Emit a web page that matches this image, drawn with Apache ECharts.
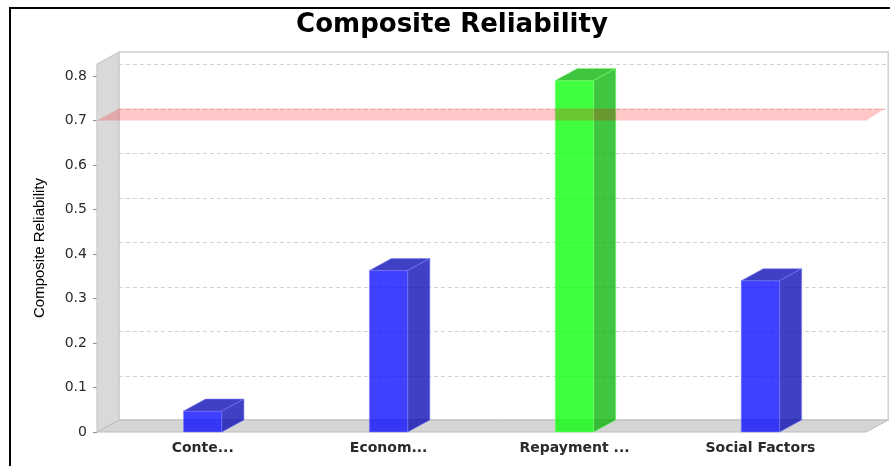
<!DOCTYPE html>
<html>
<head>
<meta charset="utf-8">
<script src="https://cdn.jsdelivr.net/npm/echarts@6/dist/echarts.min.js"></script>
<style>
  html, body { margin: 0; padding: 0; background: #fff; }
  #chart { width: 890px; height: 466px; }
</style>
</head>
<body>
<div id="chart"></div>
<script>
// Composite reliability per construct, with the 0.7 acceptance threshold.
const categories = ['Conte...', 'Econom...', 'Repayment ...', 'Social Factors'];
const reliability = [0.047, 0.363, 0.790, 0.340];
const threshold = 0.7;
const tickValues = [0, 0.1, 0.2, 0.3, 0.4, 0.5, 0.6, 0.7, 0.8];
const tickLabels = ['0', '0.1', '0.2', '0.3', '0.4', '0.5', '0.6', '0.7', '0.8'];

// 3D depth offset of the plot (back plane relative to front plane), px.
const DX = 22, DY = 12;

// Front plane extent: category axis uses 5% outer margins and 20% gaps,
// so the grid (category bands) is inset by width/58 on each side.
function frontPlane(cs) {
  const ext = cs.width / 58;
  return { x0: cs.x - ext, x1: cs.x + cs.width + ext, w: cs.width * 60 / 58 };
}

function renderFrame(params, api) {
  const cs = params.coordSys;
  const fp = frontPlane(cs);
  const yTop = cs.y, y0 = api.coord([0, 0])[1];
  const children = [];
  // back wall
  children.push({
    type: 'rect',
    shape: { x: fp.x0 + DX, y: yTop - DY, width: fp.x1 - fp.x0, height: y0 - yTop },
    style: { fill: '#ffffff', stroke: '#cfcfcf', lineWidth: 1.5 }
  });
  // gridlines on the back wall
  tickValues.forEach(v => {
    if (v <= 0) return;
    const y = Math.round(api.coord([0, v])[1] - DY) + 0.5;
    children.push({
      type: 'line',
      shape: { x1: fp.x0 + DX, y1: y, x2: fp.x1 + DX, y2: y },
      style: { stroke: '#d2d2d2', lineWidth: 1, lineDash: [4, 3] }
    });
  });
  // left wall
  children.push({
    type: 'polygon',
    shape: { points: [[fp.x0, yTop], [fp.x0 + DX, yTop - DY], [fp.x0 + DX, y0 - DY], [fp.x0, y0]] },
    style: { fill: '#d9d9d9', stroke: '#c4c4c4', lineWidth: 1 }
  });
  // floor
  children.push({
    type: 'polygon',
    shape: { points: [[fp.x0, y0], [fp.x0 + DX, y0 - DY], [fp.x1 + DX, y0 - DY], [fp.x1, y0]] },
    style: { fill: '#d5d5d5', stroke: '#bdbdbd', lineWidth: 1 }
  });
  return { type: 'group', children: children };
}

function renderBar(params, api) {
  const cs = params.coordSys;
  const fp = frontPlane(cs);
  const bw = fp.w * 0.05;
  const idx = api.value(0), val = api.value(1);
  const top = api.coord([idx, val]);
  const base = api.coord([idx, 0]);
  const xl = top[0] - bw / 2, xr = top[0] + bw / 2;
  const yt = top[1], yb = base[1];
  const pass = val >= threshold;
  const face = pass ? 'rgba(0,255,0,0.75)' : 'rgba(0,0,255,0.75)';
  const dark = pass ? 'rgba(0,178,0,0.75)' : 'rgba(0,0,178,0.75)';
  const edge = pass ? 'rgba(120,255,120,0.7)' : 'rgba(130,130,255,0.7)';
  return {
    type: 'group',
    children: [
      { type: 'rect', shape: { x: xl, y: yt, width: bw, height: yb - yt },
        style: { fill: face, stroke: edge, lineWidth: 0.8 } },
      { type: 'polygon', shape: { points: [[xl, yt], [xl + DX, yt - DY], [xr + DX, yt - DY], [xr, yt]] },
        style: { fill: dark, stroke: edge, lineWidth: 0.8 } },
      { type: 'polygon', shape: { points: [[xr, yt], [xr + DX, yt - DY], [xr + DX, yb - DY], [xr, yb]] },
        style: { fill: dark, stroke: edge, lineWidth: 0.8 } }
    ]
  };
}

function renderBand(params, api) {
  const cs = params.coordSys;
  const fp = frontPlane(cs);
  const y = api.coord([0, api.value(1)])[1];
  return {
    type: 'polygon',
    shape: { points: [[fp.x0, y], [fp.x0 + DX, y - DY], [fp.x1 + DX - 3, y - DY], [fp.x1, y]] },
    style: { fill: 'rgba(255,0,0,0.22)' }
  };
}

const chart = echarts.init(document.getElementById('chart'), null, { renderer: 'canvas' });
chart.setOption({
  animation: false,
  backgroundColor: '#ffffff',
  title: {
    text: 'Composite Reliability',
    left: 452,
    top: 12,
    padding: 0,
    textAlign: 'center',
    textStyle: { fontFamily: 'DejaVu Sans', fontWeight: 'bold', fontSize: 26, color: '#000' }
  },
  graphic: [{
    type: 'rect',
    shape: { x: 10, y: 8, width: 1000, height: 1000 },
    style: { fill: 'none', stroke: '#000', lineWidth: 2 },
    z: 100
  }],
  grid: { left: 109.75, right: 36.6, top: 64, bottom: 34 },
  xAxis: {
    type: 'category',
    data: categories,
    axisLine: { show: false },
    axisTick: { show: false },
    axisLabel: {
      interval: 0, margin: 9,
      fontFamily: 'DejaVu Sans', fontSize: 14, fontWeight: 'bold', color: '#2a2a2a'
    },
    splitLine: { show: false }
  },
  yAxis: {
    type: 'value',
    min: 0,
    max: 0.827,
    offset: 12.8,
    name: 'Composite Reliability',
    nameLocation: 'middle',
    nameGap: 50,
    nameTextStyle: { fontFamily: 'Liberation Sans', fontSize: 15, color: '#000' },
    axisLine: { show: false },
    axisTick: { show: true, length: 4, customValues: tickValues, lineStyle: { color: '#8a8a8a' } },
    axisLabel: {
      customValues: tickValues,
      formatter: v => tickLabels[tickValues.indexOf(v)],
      margin: 10,
      fontFamily: 'DejaVu Sans', fontSize: 14, color: '#2a2a2a'
    },
    splitLine: { show: false }
  },
  series: [
    { type: 'custom', name: 'frame', z: 1, silent: true, renderItem: renderFrame, data: [[0, 0]] },
    { type: 'custom', name: 'Composite Reliability', z: 2, renderItem: renderBar,
      data: reliability.map((v, i) => [i, v]), encode: { x: 0, y: 1 } },
    { type: 'custom', name: 'threshold', z: 3, silent: true, renderItem: renderBand, data: [[0, threshold]] }
  ]
});
</script>
</body>
</html>
